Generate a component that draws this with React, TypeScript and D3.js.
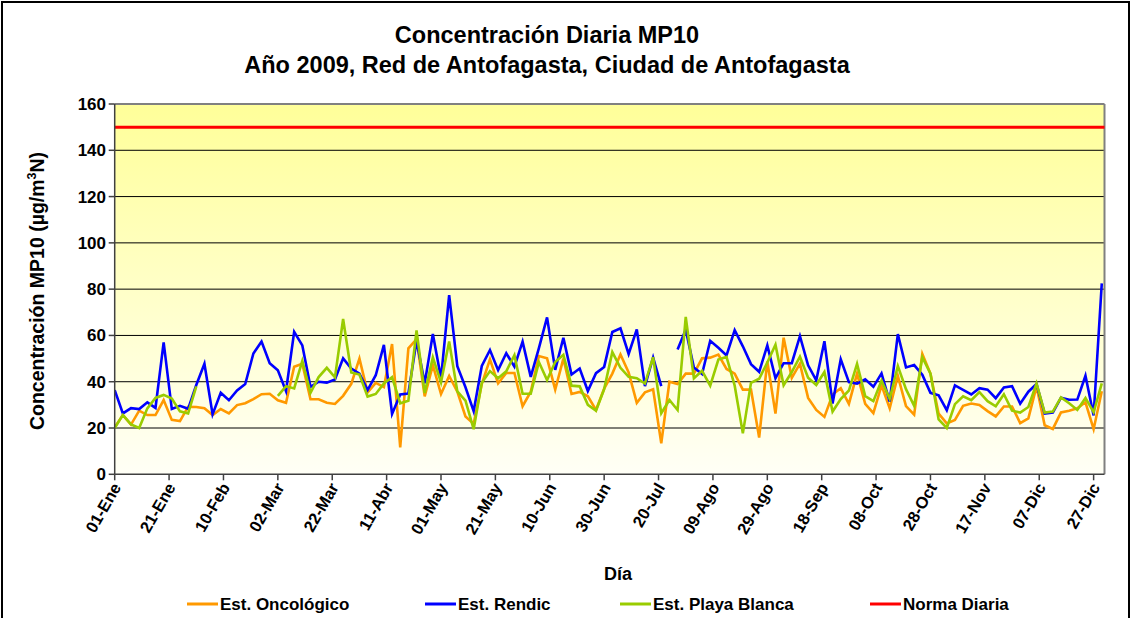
import React from "react";
import * as d3 from "d3";

// ---- Data (sampling every 3 days from 01-Ene-2009) ----
const startDate = "2009-01-01";
const samplingStepDays = 3;

const oncologico: (number | null)[] = [
  20.3, 25.6, 21.5, 27.5, 25.6, 25.6, 32.1, 23.5, 23.0, 29.2,
  29.1, 28.5, 25.6, 28.2, 26.3, 29.9, 30.7, 32.5, 34.6, 34.8,
  32.0, 30.9, 46.5, 47.8, 32.4, 32.4, 30.9, 30.4, 33.9, 39.1,
  50.0, 35.4, 39.5, 37.7, 56.3, 11.6, 54.4, 58.4, 33.7, 47.2,
  34.7, 42.5, 35.7, 25.0, 21.8, 39.0, 49.7, 39.3, 43.8, 43.8,
  29.4, 35.7, 51.1, 50.1, 36.6, 50.0, 34.7, 35.6, 33.7, 27.8,
  37.0, 43.5, 51.8, 44.0, 30.9, 35.4, 36.7, 13.4, 40.0, 39.0,
  43.5, 43.5, 50.1, 50.4, 51.7, 45.5, 43.5, 36.6, 36.6, 15.9,
  48.8, 26.2, 59.0, 41.7, 47.8, 33.0, 27.8, 24.8, 34.5, 37.2,
  30.4, 43.5, 30.4, 26.4, 38.4, 28.5, 42.5, 29.5, 25.8, 52.0,
  43.5, 26.2, 22.0, 23.5, 29.6, 30.6, 30.0, 27.3, 25.0, 29.3,
  29.3, 22.1, 24.2, 38.0, 21.2, 19.6, 26.7, 27.5, 28.5, 31.1,
  19.5, 35.9,
];

const rendic: (number | null)[] = [
  36.4, 26.3, 28.6, 28.2, 31.1, 28.7, 57.0, 28.2, 29.6, 28.3,
  38.6, 47.8, 25.9, 35.2, 32.0, 36.2, 39.0, 52.2, 57.4, 48.0,
  44.9, 35.9, 61.6, 55.7, 37.8, 40.0, 39.6, 41.0, 50.1, 45.7,
  43.5, 36.4, 42.8, 55.9, 26.1, 34.5, 34.9, 57.7, 39.3, 60.6,
  41.5, 77.4, 46.7, 37.6, 27.3, 46.8, 53.7, 45.0, 52.3, 46.5,
  57.3, 42.1, 54.5, 67.8, 45.1, 59.0, 43.1, 45.7, 36.0, 43.7,
  46.4, 61.5, 63.1, 52.0, 62.6, 38.1, 50.5, 38.1, null, 53.9,
  62.5, 46.1, 43.3, 57.7, 54.7, 51.4, 62.3, 55.3, 47.6, 44.3,
  55.7, 41.5, 48.0, 48.0, 59.7, 47.1, 40.6, 57.5, 30.6, 49.7,
  39.8, 39.2, 41.0, 37.8, 43.6, 31.4, 60.6, 46.2, 47.2, 43.0,
  35.2, 34.1, 27.7, 38.4, 36.5, 34.5, 37.2, 36.6, 32.9, 37.5,
  38.1, 30.5, 35.7, 39.0, 26.2, 26.7, 33.1, 32.2, 32.3, 42.6,
  25.4, 82.5,
];

const playaBlanca: (number | null)[] = [
  20.0, 25.7, 21.6, 20.0, 28.5, 33.0, 34.3, 32.7, 27.2, 26.3,
  38.0, null, null, null, null, null, null, null, null, null,
  33.9, 38.1, 37.1, 49.0, 35.2, 42.0, 46.0, 41.9, 67.1, 44.0,
  43.1, 33.6, 34.7, 39.3, 42.0, 30.7, 31.8, 62.2, 35.1, 50.5,
  39.7, 57.4, 35.8, 31.8, 19.5, 39.5, 44.6, 41.5, 44.5, 51.5,
  34.8, 34.8, 48.5, 40.7, 48.5, 51.6, 38.3, 38.0, 30.0, 27.5,
  36.8, 52.8, 46.0, 42.1, 41.5, 39.2, 50.6, 26.4, 32.1, 27.8,
  68.0, 41.5, 44.7, 38.3, 49.6, 50.7, 38.3, 17.7, 39.5, 41.3,
  48.3, 56.0, 38.5, 44.2, 50.8, 41.7, 38.6, 44.2, 27.1, 32.5,
  36.2, 47.7, 33.8, 31.6, 40.5, 32.6, 46.8, 36.8, 29.6, 50.6,
  43.5, 23.7, 20.0, 30.3, 33.7, 32.0, 35.5, 31.6, 29.4, 34.6,
  27.5, 26.7, 29.1, 39.3, 26.7, 27.1, 33.2, 30.7, 27.8, 33.0,
  26.8, 39.3,
];

const normaDiaria = 150;

const xTickLabels = [
  "01-Ene", "21-Ene", "10-Feb", "02-Mar", "22-Mar", "11-Abr", "01-May",
  "21-May", "10-Jun", "30-Jun", "20-Jul", "09-Ago", "29-Ago", "18-Sep",
  "08-Oct", "28-Oct", "17-Nov", "07-Dic", "27-Dic",
];
const xTickStepDays = 20;
const yTicks = [0, 20, 40, 60, 80, 100, 120, 140, 160];

const seriesNames = ["Est. Oncológico", "Est. Rendic", "Est. Playa Blanca", "Norma Diaria"];
const seriesColors = ["#FF9900", "#0000FF", "#99CC00", "#FF0000"];

// ---- Layout ----
const W = 1131;
const H = 618;
const left = 114.7;
const right = 1104.5;
const top = 104;
const bottom = 474.3;
const FONT = "'Liberation Sans', Arial, Helvetica, sans-serif";

export default function App() {
  const t0 = new Date(startDate + "T00:00:00");
  const t1 = d3.timeDay.offset(t0, 364);
  const x = d3.scaleTime().domain([t0, t1]).range([left, right]);
  const y = d3.scaleLinear().domain([0, 160]).range([bottom, top]);

  const dateOf = (i: number) => d3.timeDay.offset(t0, i * samplingStepDays);

  const line = d3
    .line<number | null>()
    .defined((d) => d != null)
    .x((_, i) => x(dateOf(i)))
    .y((d) => y(d as number));

  const series = [oncologico, rendic, playaBlanca];
  const tickDates = xTickLabels.map((_, i) => d3.timeDay.offset(t0, i * xTickStepDays));

  const legendX = [187, 425, 620, 870];

  return (
    <svg
      width={W}
      height={H}
      style={{ position: "absolute", left: 0, top: 0, background: "#fff" }}
      fontFamily={FONT}
    >
      <defs>
        <linearGradient id="bg" x1="0" y1="0" x2="0" y2="1">
          <stop offset="0%" stopColor="#FFFF99" />
          <stop offset="100%" stopColor="#FFFFF6" />
        </linearGradient>
        <clipPath id="plotclip">
          <rect x={left} y={top - 2} width={right - left + 2} height={bottom - top + 4} />
        </clipPath>
      </defs>
      <rect x={0} y={0} width={W} height={H} fill="#fff" />
      <rect x={2} y={2} width={W - 4} height={H + 20} fill="none" stroke="#000" strokeWidth={2} />

      {/* Titles */}
      <text x={547} y={43} textAnchor="middle" fontSize={23.5} fontWeight="bold">
        Concentración Diaria MP10
      </text>
      <text x={547} y={73} textAnchor="middle" fontSize={23.5} fontWeight="bold">
        Año 2009, Red de Antofagasta, Ciudad de Antofagasta
      </text>

      {/* Plot area */}
      <rect x={left} y={top} width={right - left} height={bottom - top} fill="url(#bg)" />
      {yTicks.slice(1, -1).map((v) => (
        <line key={v} x1={left} x2={right} y1={y(v)} y2={y(v)} stroke="#000" strokeWidth={1} />
      ))}
      <line x1={left} x2={right} y1={top} y2={top} stroke="#808080" strokeWidth={2} />
      <line x1={right} x2={right} y1={top} y2={bottom} stroke="#808080" strokeWidth={2} />

      {/* Series */}
      <g clipPath="url(#plotclip)">
        <line
          x1={left}
          x2={right}
          y1={y(normaDiaria)}
          y2={y(normaDiaria)}
          stroke={seriesColors[3]}
          strokeWidth={3}
        />
        {series.map((s, k) => (
          <path
            key={k}
            d={line(s) || ""}
            fill="none"
            stroke={seriesColors[k]}
            strokeWidth={2.6}
            strokeLinejoin="miter"
          />
        ))}
      </g>

      {/* Y axis */}
      <line x1={left} x2={left} y1={top} y2={bottom} stroke="#404040" strokeWidth={1.5} />
      {yTicks.map((v) => (
        <g key={v}>
          <line x1={left - 6} x2={left} y1={y(v)} y2={y(v)} stroke="#404040" strokeWidth={1.5} />
          <text x={106} y={y(v) + 6} textAnchor="end" fontSize={17} fontWeight="bold">
            {v}
          </text>
        </g>
      ))}
      <text
        transform={`translate(44, 291) rotate(-90)`}
        textAnchor="middle"
        fontSize={19.5}
        fontWeight="bold"
      >
        Concentración MP10 (µg/m
        <tspan dy={-8} fontSize={12.5}>3</tspan>
        <tspan dy={8}>N)</tspan>
      </text>

      {/* X axis */}
      <line x1={left} x2={right} y1={bottom} y2={bottom} stroke="#404040" strokeWidth={1.5} />
      {tickDates.map((d, i) => (
        <g key={i}>
          <line x1={x(d)} x2={x(d)} y1={bottom} y2={bottom + 6} stroke="#404040" strokeWidth={1.5} />
          <text
            transform={`translate(${x(d) + 2}, ${bottom + 10}) rotate(-60)`}
            textAnchor="end"
            dy="0.35em"
            fontSize={16.5}
            fontWeight="bold"
          >
            {xTickLabels[i]}
          </text>
        </g>
      ))}
      <text x={618} y={580} textAnchor="middle" fontSize={18} fontWeight="bold">
        Día
      </text>

      {/* Legend */}
      {seriesNames.map((n, i) => (
        <g key={n}>
          <line
            x1={legendX[i]}
            x2={legendX[i] + 31}
            y1={604}
            y2={604}
            stroke={seriesColors[i]}
            strokeWidth={3}
          />
          <text x={legendX[i] + 33} y={610} fontSize={17} fontWeight="bold">
            {n}
          </text>
        </g>
      ))}
    </svg>
  );
}
